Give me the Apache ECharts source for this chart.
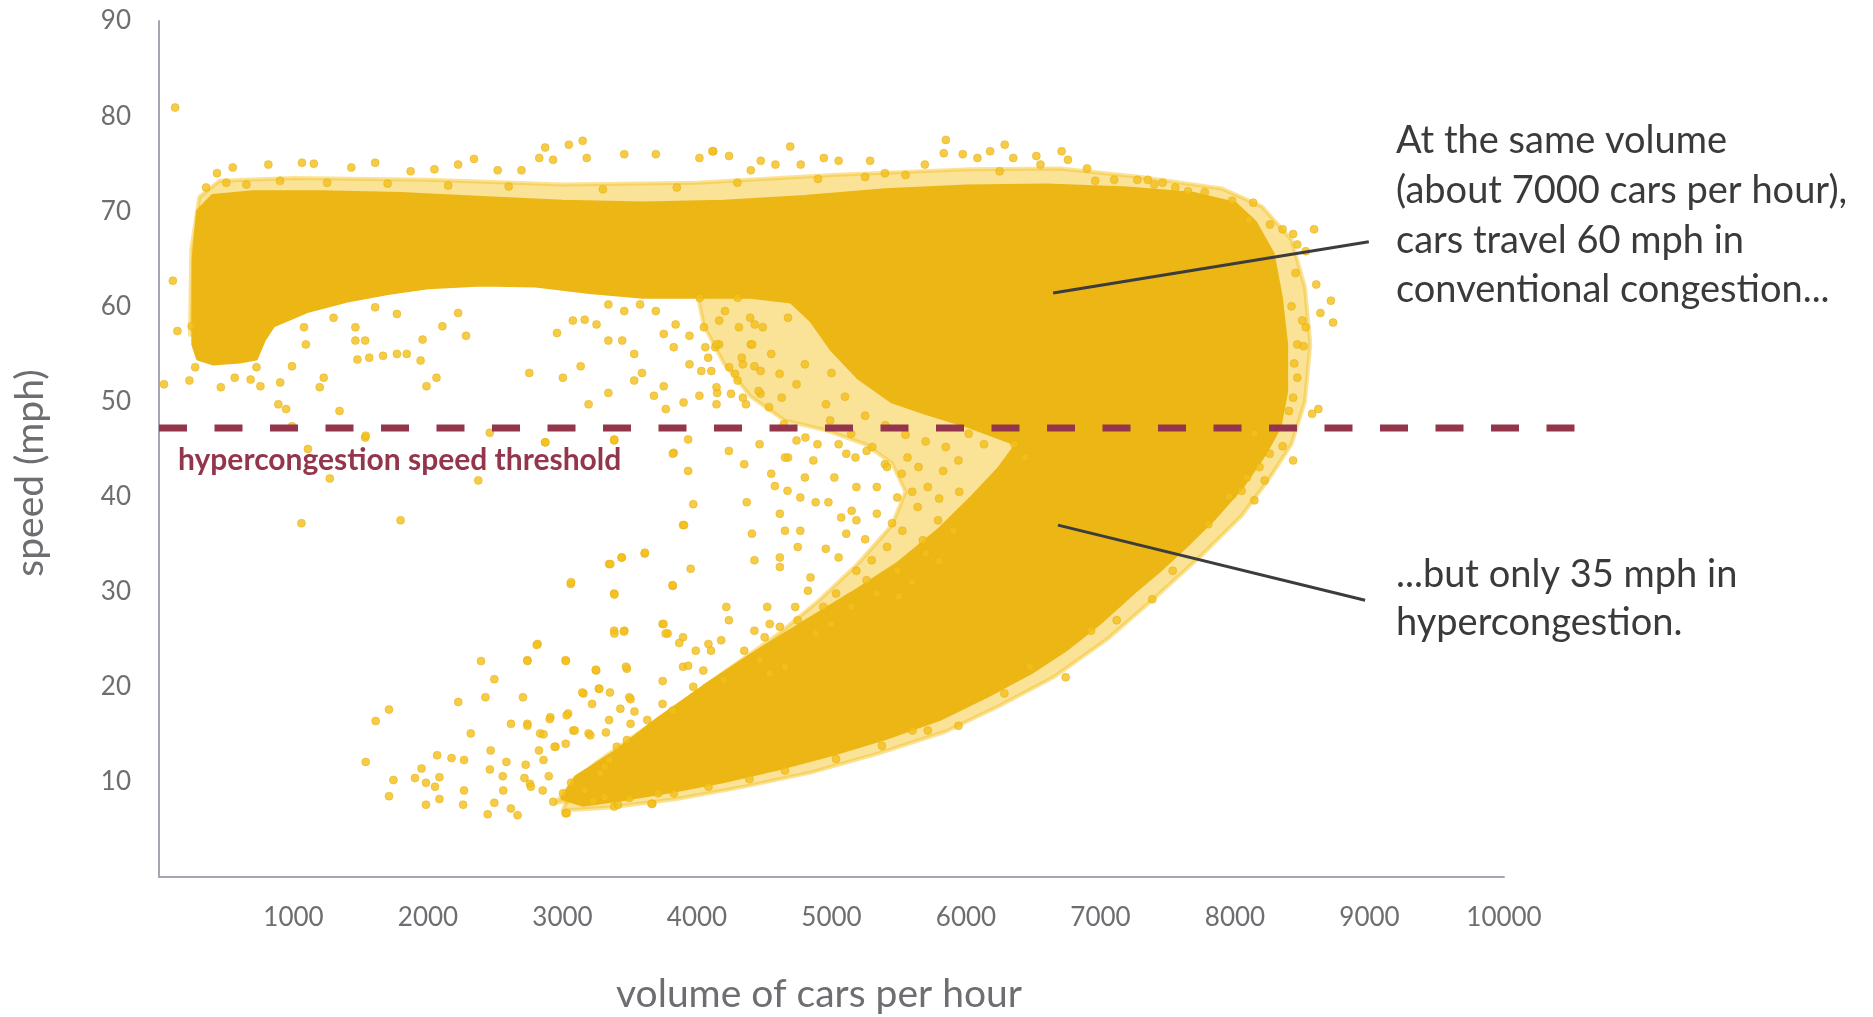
<!DOCTYPE html>
<html>
<head>
<meta charset="utf-8">
<script src="https://cdn.jsdelivr.net/npm/echarts@6/dist/echarts.min.js"></script>
<style>
html, body { margin: 0; padding: 0; background: #fff; }
#main { width: 1873px; height: 1017px; }
</style>
</head>
<body>
<div id="main"></div>
<script>
// axis ticks
const volumeTicks = [1000, 2000, 3000, 4000, 5000, 6000, 7000, 8000, 9000, 10000];
const speedTicks = [10, 20, 30, 40, 50, 60, 70, 80, 90];

// threshold and callouts [volume, speed]
const thresholdSpeed = 47.2;
const thresholdSpan = [0, 10540];
const calloutHigh = [[6648, 61.4], [8995, 66.8]];
const calloutLow = [[6684, 37.0], [8967, 29.1]];

// outline of the area where the dots are packed solid [volume, speed]
const denseCore = [
  [255, 58], [258, 65], [290, 70], [400, 71.6], [700, 72.0], [1200, 72.0], [1800, 71.8],
  [2400, 71.4], [3000, 71.0], [3600, 70.8], [4200, 71.0], [4800, 71.5], [5400, 72.2],
  [6000, 72.6], [6600, 72.7], [7200, 72.4], [7700, 71.8], [8000, 70.8], [8150, 68.8],
  [8280, 65.5], [8340, 61], [8380, 56], [8380, 51], [8330, 47.3], [8220, 44.5], [8050, 41.0],
  [7850, 37.8], [7650, 35.0], [7460, 32.5], [7250, 30.0], [7000, 26.8], [6750, 24.0],
  [6480, 21.5], [6150, 19.0], [5800, 16.6], [5400, 14.6], [5000, 12.9], [4600, 11.4],
  [4200, 10.1], [3800, 9.0], [3450, 8.2], [3150, 7.6], [3000, 8.3],
  [3100, 10.5], [3400, 13.2], [3700, 16.5], [4050, 20.0], [4400, 23.3], [4800, 26.8],
  [5150, 29.8], [5500, 33.0], [5800, 36.5], [6050, 40.0], [6250, 43.0], [6380, 45.5],
  [6000, 47.5], [5700, 48.8], [5450, 50.0], [5200, 52.5], [5000, 55.5], [4850, 58.5],
  [4700, 60.5], [4400, 61.0], [4000, 61.0], [3600, 61.0], [3200, 61.5], [2800, 62.2],
  [2400, 62.3], [2000, 62.0], [1700, 61.4], [1400, 60.6], [1100, 59.5], [850, 58.0],
  [780, 56.5], [720, 54.5], [600, 54.2], [400, 54.0], [290, 54.5], [255, 56]
];

// outline of the speckled (half filled) zone between the two branches [volume, speed]
const looseZone = [
  [4000, 61.5], [4050, 58], [4200, 54], [4400, 50.5], [4650, 48], [4950, 47], [5250, 45.5],
  [5450, 43.5], [5550, 40.5], [5450, 37], [5200, 33], [4900, 29], [4600, 25.5], [4250, 22],
  [3900, 18.5], [3550, 15], [3250, 12], [3050, 9.5], [2950, 7.8],
  [3400, 8.5], [4500, 12], [5600, 17], [6400, 25], [6900, 40], [6600, 55], [5500, 62]
];

// outline of the speckled rim around the solid area [volume, speed]
const looseRim = [
  [230, 57], [240, 66], [300, 71.5], [450, 73.2], [1000, 73.5], [2000, 73.3], [3000, 72.8],
  [4000, 73.0], [5000, 73.8], [6000, 74.4], [6700, 74.5], [7300, 73.6], [7900, 72.4],
  [8200, 70.5], [8420, 67], [8520, 62], [8560, 56], [8520, 50], [8420, 45.5], [8250, 41.8],
  [8050, 38], [7750, 33.8], [7400, 29.3], [7050, 25], [6650, 21], [6250, 18], [5850, 15.3],
  [5350, 13], [4850, 11], [4350, 9.5], [3850, 8.2], [3350, 7.3], [3000, 7.0],
  [3100, 10], [8000, 40], [8100, 68], [300, 66]
];

// single dots outside the solid area [volume, speed]
const dotsTop = [
  [120, 80.9], [431, 74.0], [548, 74.6], [813, 74.9], [1063, 75.1], [1151, 75.0], [1430, 74.6],
  [1607, 75.1], [1871, 74.2], [2048, 74.4], [2224, 74.9], [2342, 75.5], [2518, 74.3],
  [2695, 74.3], [2827, 75.6], [2871, 76.7], [2930, 75.4], [3047, 77.0], [3150, 77.4],
  [3180, 75.6], [3459, 76.0], [3694, 76.0], [4018, 75.6], [4121, 76.3], [4238, 75.8],
  [4400, 74.3], [4114, 76.3], [4474, 75.3], [4583, 74.9], [4693, 76.8], [4771, 74.9],
  [4943, 75.6], [5053, 75.3], [5287, 75.3], [5397, 74.0], [5694, 74.9], [5850, 77.5],
  [5835, 76.1], [5976, 76.0], [6085, 75.6], [6179, 76.3], [6288, 77.0], [6351, 75.6],
  [6523, 75.8], [6711, 76.3], [6758, 75.4], [6554, 74.9], [6961, 73.2], [7102, 73.3],
  [7274, 73.3], [7352, 73.3], [7462, 73.0], [7556, 72.5], [7650, 72.1], [7775, 72.0],
  [7978, 71.1], [8135, 70.9], [350, 72.5], [500, 73], [650, 72.8], [900, 73.2], [1250, 73],
  [1700, 72.9], [2150, 72.7], [2600, 72.6], [3300, 72.3], [3850, 72.5], [4300, 73.0],
  [4900, 73.4], [5250, 73.6], [5550, 73.8], [6250, 74.2], [6900, 74.5], [7400, 72.8]
];
const dotsRight = [
  [8103, 69.1], [8260, 68.6], [8354, 68.1], [8432, 67.6], [8588, 68.1], [8463, 66.5],
  [8526, 65.8], [8604, 62.3], [8713, 60.6], [8635, 59.3], [8729, 58.3], [8526, 57.8],
  [8463, 56.0], [8510, 55.8], [8463, 52.5], [8432, 50.4], [8401, 49.0], [8620, 49.2],
  [8573, 48.7], [8354, 45.3], [8432, 43.8], [8182, 43.1], [8088, 42.0], [8144, 46.6],
  [8258, 44.5], [8220, 41.7], [8144, 39.6], [8049, 40.6], [7955, 40.0], [7802, 37.1],
  [7537, 32.2], [7385, 29.2], [7120, 27.0], [6930, 25.9], [6741, 21.0], [6475, 22.1],
  [6285, 19.3], [5944, 15.9], [5716, 15.4], [5602, 15.4], [5375, 13.8], [5034, 12.4],
  [4654, 11.2], [4389, 10.3], [4085, 9.5], [3668, 7.7], [3384, 7.4], [3023, 6.7],
  [2758, 9.8], [2853, 9.1], [8450, 63.5], [8420, 60], [8500, 58.5], [8440, 54]
];
const dotsLeft = [
  [103, 62.7], [137, 57.4], [37, 51.8], [226, 52.2], [243, 57.9], [269, 53.6], [460, 51.5],
  [563, 52.5], [681, 52.3], [754, 51.6], [725, 53.6], [901, 52.0], [887, 49.7], [945, 49.2],
  [989, 53.7], [1092, 56.0], [1078, 57.8], [1298, 58.8], [1225, 52.5], [1195, 51.5],
  [1342, 49.0], [1460, 57.8], [1460, 56.4], [1533, 56.4], [1475, 54.4], [1563, 54.6],
  [1666, 54.8], [1769, 55.0], [1842, 55.0], [1945, 54.3], [1960, 56.5], [2107, 57.9],
  [2283, 56.9], [2224, 59.3], [2063, 52.5], [1989, 51.6], [1769, 59.2], [1607, 59.9],
  [2753, 53.0], [3003, 52.5], [3135, 53.7], [3194, 49.7], [3341, 50.9], [3444, 56.4],
  [3533, 55.0], [3591, 53.0], [3533, 52.2], [2959, 57.2], [3077, 58.5], [3165, 58.6],
  [3253, 58.1], [3341, 56.4], [3680, 50.6], [3768, 49.2], [3753, 51.6], [3900, 49.9],
  [4018, 50.6], [4150, 50.9], [4253, 50.8], [4341, 50.4], [3944, 53.9], [4032, 53.2],
  [4106, 53.2], [4165, 56.0], [4282, 52.9], [3753, 57.1], [3841, 58.1], [3944, 56.9],
  [4062, 55.7], [4135, 55.7], [3694, 59.5], [3577, 60.2], [3827, 55.7], [3341, 60.2],
  [3459, 59.5], [4165, 58.5], [4312, 57.8], [4429, 58.1], [4400, 56.0], [4341, 53.9],
  [4473, 53.2], [4473, 50.8], [989, 47.4], [1533, 46.2], [1107, 45.0], [2459, 46.7],
  [2871, 45.7], [3385, 46.0], [3827, 44.6], [1537, 46.4], [1270, 41.9], [2374, 41.7],
  [1059, 37.2], [1796, 37.5]
];
const dotsMiddle = [
  [4051, 57.8], [4145, 56.0], [4083, 54.6], [4239, 53.6], [4302, 52.2], [4145, 51.5],
  [4145, 49.7], [4364, 49.7], [4458, 51.1], [4411, 56.0], [4489, 57.8], [4395, 58.8],
  [4552, 55.0], [4614, 52.9], [4536, 49.4], [4630, 50.4], [4646, 47.6], [4740, 45.9],
  [4896, 45.5], [4740, 51.8], [4802, 53.9], [4959, 49.7], [4990, 48.0], [5053, 45.5],
  [5178, 44.1], [4865, 43.8], [4677, 44.1], [4552, 42.4], [4802, 42.0], [5021, 42.0],
  [5146, 46.6], [5303, 45.2], [5397, 43.4], [5522, 42.4], [5647, 43.1], [4208, 59.5],
  [4302, 60.9], [4020, 60.9], [4677, 58.8], [4427, 53.7], [4333, 54.6],
  [5110, 44.5], [5261, 44.8], [5413, 43.1], [5565, 44.1], [5337, 41.0], [5489, 39.9],
  [5641, 38.9], [5716, 41.0], [5830, 42.7], [5944, 43.8], [5792, 37.5], [5906, 36.4],
  [5337, 38.2], [5185, 41.0], [5527, 36.4], [5679, 35.4], [5413, 34.7], [5299, 33.3],
  [5185, 32.2], [5489, 32.2], [5261, 31.2], [5337, 29.8], [5147, 28.4], [4996, 26.6],
  [4882, 25.6], [6020, 46.6], [6134, 45.5], [6361, 45.5], [6437, 44.1], [4806, 46.2],
  [4465, 45.5], [4654, 44.1], [4351, 43.4], [4237, 44.8], [3934, 46.0],
  [5000, 53], [5100, 50.5], [5250, 48.5], [5400, 47.5], [5550, 46.5], [5700, 45.8],
  [5850, 45.2], [5950, 40.5], [5800, 39.8], [5600, 40.5], [5450, 37.2], [5700, 34],
  [5600, 31], [5500, 29.5], [5800, 33.2], [5250, 35.5], [5150, 38.5]
];
const dotsLower = [
  [2872, 45.7], [3384, 45.9], [3820, 44.5], [3934, 42.7], [3972, 39.2], [3896, 37.0],
  [3611, 34.0], [3441, 33.6], [3346, 32.9], [3061, 30.8], [3384, 29.8], [3820, 30.6],
  [3953, 32.4], [4370, 39.4], [4408, 36.1], [4427, 33.3], [4579, 41.1], [4673, 40.6],
  [4768, 39.9], [4616, 38.2], [4654, 36.4], [4768, 36.4], [4749, 34.7], [4616, 33.6],
  [4616, 32.6], [4882, 39.4], [4977, 39.4], [5072, 37.8], [5185, 37.5], [5110, 36.1],
  [4958, 34.5], [5053, 33.6], [4844, 31.5], [4825, 30.1], [4730, 28.4], [4616, 26.3],
  [4749, 27.0], [4939, 28.4], [5034, 29.8], [4218, 28.4], [4237, 27.0], [4522, 28.4],
  [4541, 26.6], [4180, 24.9], [4085, 24.5], [4104, 23.8], [3991, 23.8], [3744, 26.6],
  [3782, 25.6], [3896, 25.2], [3384, 25.9], [3460, 25.9], [3251, 21.7], [3479, 21.9],
  [3896, 22.1], [3934, 22.2], [4427, 25.9], [4503, 25.2], [4351, 23.8], [4465, 22.8],
  [4654, 22.1], [4541, 21.4], [3023, 22.8], [2739, 22.8], [2815, 24.5], [3156, 19.3],
  [3270, 19.8], [3497, 18.9], [2910, 16.8], [3042, 17.2], [2834, 15.1], [2948, 13.7],
  [2739, 16.1], [3080, 15.4], [3194, 15.1], [3346, 16.5], [3630, 16.5], [3744, 18.2],
  [3820, 17.5], [3972, 20.0], [4199, 20.7], [4047, 21.7],
  [3064, 31.0], [3356, 32.9], [3439, 33.6], [3612, 34.1], [3386, 29.7], [3818, 30.7],
  [3904, 37.0], [3386, 25.6], [3456, 25.8], [3751, 26.6], [3767, 25.6], [3868, 24.6],
  [2808, 24.4], [2394, 22.7], [2739, 22.7], [3025, 22.7], [2493, 20.8], [3247, 21.8],
  [3472, 22.1], [2225, 18.4], [2427, 18.9], [2706, 18.9], [3147, 19.4], [3274, 19.8],
  [3353, 19.4], [3220, 18.2], [3506, 18.7], [3745, 20.6], [1710, 17.6], [1611, 16.4],
  [2318, 15.1], [2617, 16.1], [2739, 15.9], [2905, 16.6], [3031, 17.0], [2859, 15.0],
  [3091, 15.4], [3207, 14.9], [3323, 15.2], [3430, 17.7], [3535, 17.4], [3506, 16.1],
  [1537, 12.1], [2466, 13.3], [2825, 13.3], [2941, 13.7], [3024, 14.0], [2859, 12.3],
  [2068, 12.8], [2175, 12.5], [2268, 12.3], [1952, 11.4], [2460, 11.3], [2583, 12.1],
  [2726, 11.8], [1743, 10.2], [1903, 10.4], [1985, 9.9], [2052, 9.5], [2085, 10.5],
  [2268, 9.1], [2556, 10.6], [2559, 9.1], [2717, 10.4], [2765, 9.5], [2898, 10.6],
  [3064, 9.9], [1710, 8.5], [1985, 7.6], [2085, 8.2], [2261, 7.6], [2444, 6.6], [2493, 7.8],
  [2616, 7.2], [2666, 6.5], [2931, 7.9], [3031, 6.7], [3004, 8.8], [3164, 9.1], [3230, 8.0],
  [3313, 8.4], [3413, 7.6], [3496, 8.3], [3662, 7.7], [3711, 8.8], [3828, 8.8], [3280, 10.9],
  [3347, 12.3], [3403, 13.7], [3479, 14.4], [3313, 11.6]
];

const dotColor = '#F4BF18';
const coreColor = '#ECB614';
const maroon = '#93364B';
const greyText = '#6d6e71';
const font = 'Lato, "Open Sans", sans-serif';

const myChart = echarts.init(document.getElementById('main'));

function areaSeries(outline, fill, z) {
  return {
    type: 'custom',
    data: outline,
    silent: true,
    z: z,
    renderItem: function (params, api) {
      if (params.dataIndex !== 0) return null;
      return {
        type: 'polygon',
        shape: { points: outline.map(p => api.coord(p)) },
        style: { fill: fill, stroke: fill, lineWidth: 4, lineJoin: 'round' }
      };
    }
  };
}

function dotSeries(data) {
  return {
    type: 'scatter',
    data: data,
    symbol: 'circle',
    symbolSize: 8,
    itemStyle: { color: dotColor, borderColor: '#E2AD12', borderWidth: 0.6 },
    silent: true,
    z: 4
  };
}

function straightSeries(points, color, width, dash, z) {
  return {
    type: 'custom',
    data: points,
    silent: true,
    z: z,
    renderItem: function (params, api) {
      if (params.dataIndex !== 0) return null;
      const a = api.coord(points[0]);
      const b = api.coord(points[1]);
      return {
        type: 'line',
        shape: { x1: a[0], y1: a[1], x2: b[0], y2: b[1] },
        style: { stroke: color, lineWidth: width, lineDash: dash }
      };
    }
  };
}

let option = {
  animation: false,
  backgroundColor: '#ffffff',
  grid: { left: 159, top: 21, width: 1345, height: 856 },
  xAxis: {
    type: 'value',
    min: 0,
    max: volumeTicks[volumeTicks.length - 1],
    interval: volumeTicks[1] - volumeTicks[0],
    splitLine: { show: false },
    axisTick: { show: false },
    axisLine: { show: true, lineStyle: { color: '#A4A7AF', width: 2 } },
    axisLabel: {
      color: greyText,
      fontFamily: font,
      fontSize: 26,
      margin: 28,
      formatter: v => (volumeTicks.indexOf(v) >= 0 ? String(v) : '')
    }
  },
  yAxis: {
    type: 'value',
    min: 0,
    max: speedTicks[speedTicks.length - 1],
    interval: speedTicks[1] - speedTicks[0],
    splitLine: { show: false },
    axisTick: { show: false },
    axisLine: { show: true, lineStyle: { color: '#A4A7AF', width: 2 } },
    axisLabel: {
      color: greyText,
      fontFamily: font,
      fontSize: 26,
      margin: 28,
      formatter: v => (speedTicks.indexOf(v) >= 0 ? String(v) : '')
    }
  },
  series: [
    areaSeries(looseRim, 'rgba(244, 191, 24, 0.45)', 1),
    areaSeries(looseZone, 'rgba(244, 191, 24, 0.45)', 1),
    areaSeries(denseCore, coreColor, 2),
    dotSeries(dotsTop),
    dotSeries(dotsRight),
    dotSeries(dotsLeft),
    dotSeries(dotsMiddle),
    dotSeries(dotsLower),
    straightSeries([[thresholdSpan[0], thresholdSpeed], [thresholdSpan[1], thresholdSpeed]],
      maroon, 7, [28, 27.5], 5),
    straightSeries(calloutHigh, '#3c3c3c', 3, null, 6),
    straightSeries(calloutLow, '#3c3c3c', 3, null, 6)
  ],
  graphic: [
    {
      type: 'text',
      left: 178,
      top: 445,
      style: {
        text: 'hypercongestion speed threshold',
        fill: maroon,
        font: 'bold 30px ' + font
      },
      z: 10
    },
    {
      type: 'text',
      left: 1396,
      top: 116,
      style: {
        text: 'At the same volume\n(about 7000 cars per hour),\ncars travel 60 mph in\nconventional congestion...',
        fill: '#3a3a3a',
        font: '38px ' + font,
        lineHeight: 49.7
      },
      z: 10
    },
    {
      type: 'text',
      left: 1396,
      top: 551,
      style: {
        text: '...but only 35 mph in\nhypercongestion.',
        fill: '#3a3a3a',
        font: '38px ' + font,
        lineHeight: 47.8
      },
      z: 10
    },
    {
      type: 'text',
      x: 30,
      y: 473,
      rotation: Math.PI / 2,
      style: {
        text: 'speed (mph)',
        fill: greyText,
        font: '39px ' + font,
        align: 'center',
        verticalAlign: 'middle'
      },
      z: 10
    },
    {
      type: 'text',
      x: 819,
      y: 994,
      style: {
        text: 'volume of cars per hour',
        fill: greyText,
        font: '39px ' + font,
        align: 'center',
        verticalAlign: 'middle'
      },
      z: 10
    }
  ]
};
myChart.setOption(option);
</script>
</body>
</html>
